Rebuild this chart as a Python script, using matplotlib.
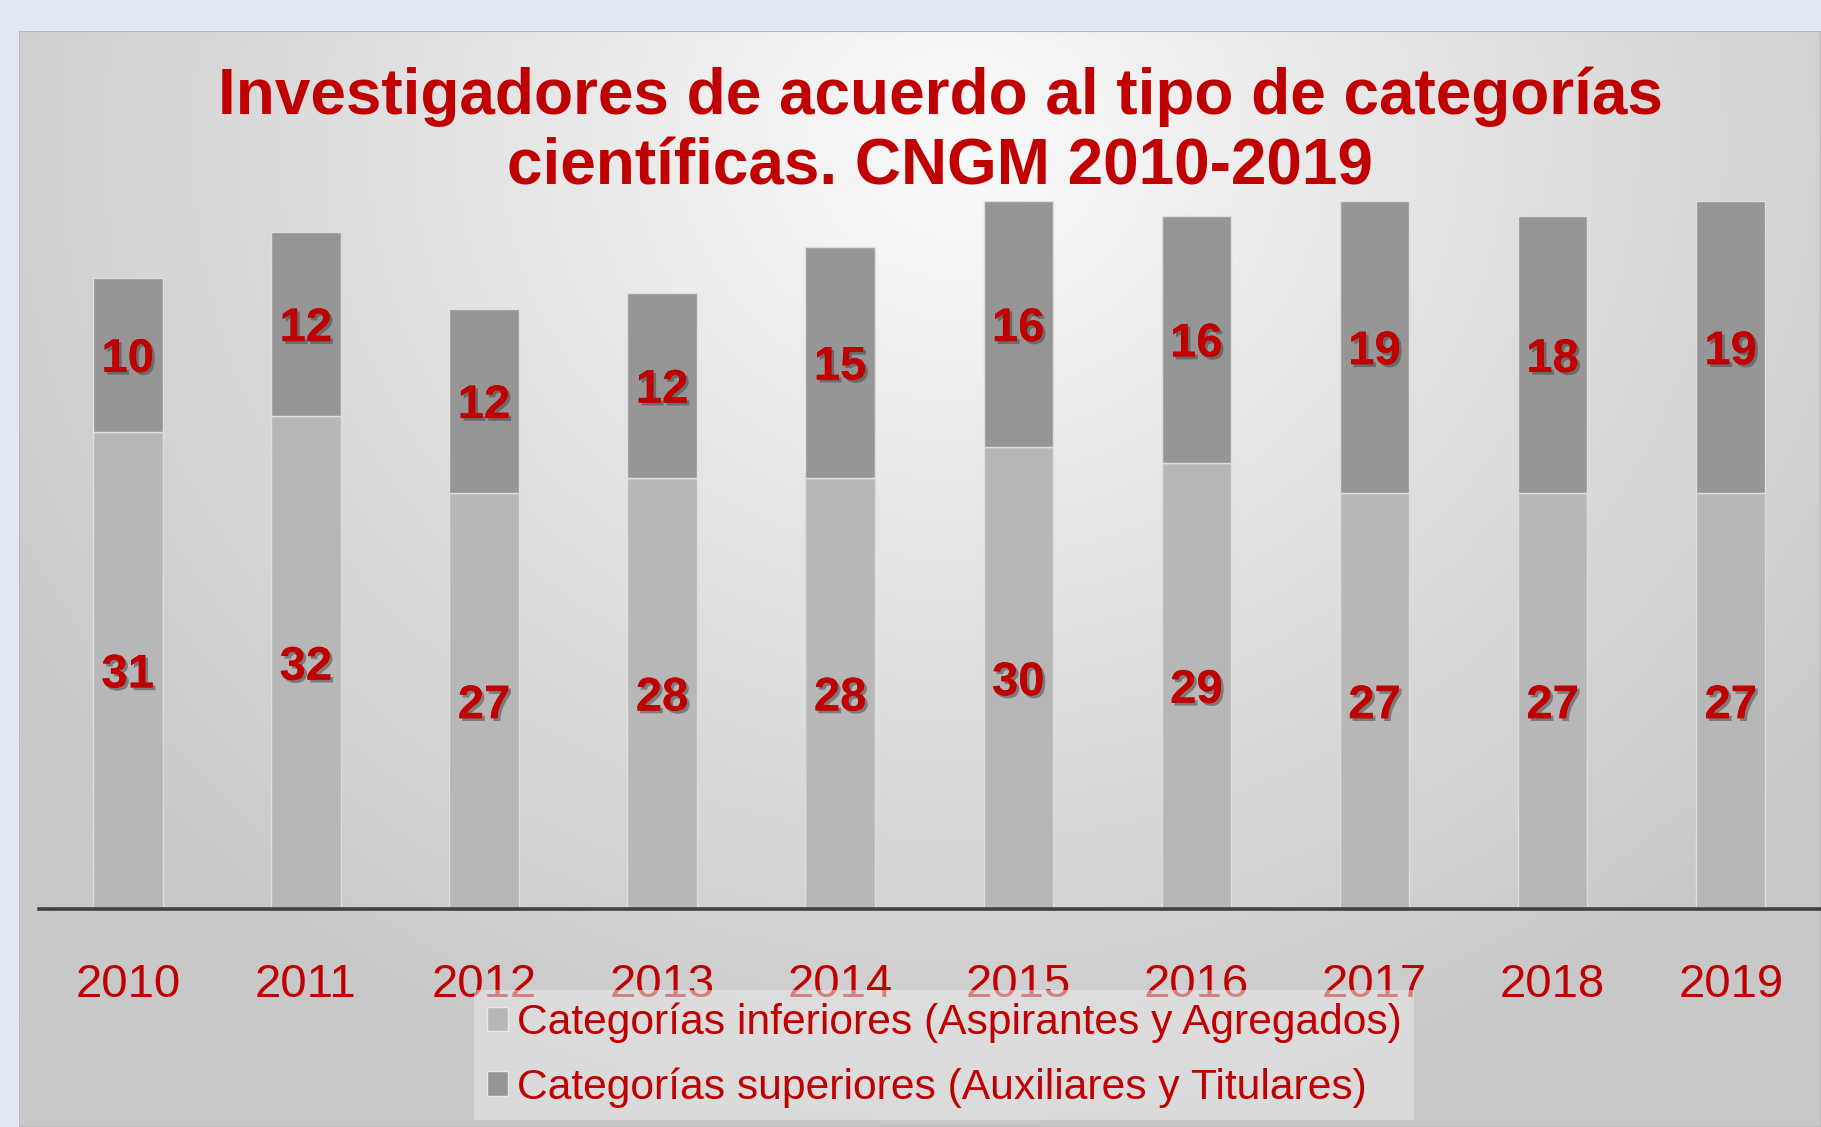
import numpy as np
import matplotlib.pyplot as plt
import matplotlib.patheffects as pe
from matplotlib.patches import Patch, Rectangle

# datos
anios = ['2010', '2011', '2012', '2013', '2014', '2015', '2016', '2017', '2018', '2019']
inferiores = [31, 32, 27, 28, 28, 30, 29, 27, 27, 27]
superiores = [10, 12, 12, 12, 15, 16, 16, 19, 18, 19]

titulo = 'Investigadores de acuerdo al tipo de categorías\ncientíficas. CNGM 2010-2019'
etiqueta_inf = 'Categorías inferiores (Aspirantes y Agregados)'
etiqueta_sup = 'Categorías superiores (Auxiliares y Titulares)'

rojo = '#c00000'
gris_inf = '#b7b7b7'
gris_sup = '#969696'

plt.rcParams['font.family'] = ['Liberation Sans', 'DejaVu Sans']

W, H = 1821, 1127
fig = plt.figure(figsize=(W/100, H/100), dpi=100, facecolor='#e1e8f4')

# panel con degradado
px0, py0 = 19, 31
bg = fig.add_axes([px0/W, 0, 1 - px0/W, 1 - py0/H])
ny, nx = 220, 360
yy, xx = np.mgrid[0:ny, 0:nx]
xx = xx / nx * (W - px0)
yy = yy / ny * (H - py0)
d = np.sqrt(((xx - 0.52*(W - px0))/1100)**2 + ((yy - 0.10*(H - py0))/1000)**2)
v = (250 - 50*np.clip(d, 0, 1)) / 255.
bg.imshow(np.dstack([v, v, v]), aspect='auto', extent=[0, 1, 0, 1], origin='upper', interpolation='bilinear')
bg.add_patch(Rectangle((0, 0), 1, 1, transform=bg.transAxes, fill=False, edgecolor='#b8b8b8', lw=1.5))
bg.set_axis_off()

# grafico de barras
y_eje, y_top = 909, 201
ax = fig.add_axes([38.75/W, (H - y_eje)/H, 1781/W, (y_eje - y_top)/H])
ax.patch.set_alpha(0)
x = np.arange(len(anios))
ancho = 0.39
b1 = ax.bar(x, inferiores, ancho, color=gris_inf, edgecolor='#dedede', lw=1, label=etiqueta_inf)
b2 = ax.bar(x, superiores, ancho, bottom=inferiores, color=gris_sup, edgecolor='#dedede', lw=1, label=etiqueta_sup)

sombra = [pe.withSimplePatchShadow(offset=(2, -2), shadow_rgbFace='#404040', alpha=0.5), pe.Normal()]
for barras in (b1, b2):
    etiquetas = ax.bar_label(barras, label_type='center', color=rojo, fontsize=34, fontweight='bold',
                             path_effects=sombra)
    for t in etiquetas:
        t.set_verticalalignment('center_baseline')

ax.set_xlim(-0.5, len(anios) - 0.5)
ax.set_ylim(0, 46)
ax.set_yticks([])
ax.set_xticks(x)
ax.set_xticklabels(anios, color=rojo, fontsize=34)
ax.tick_params(axis='x', length=0, pad=39)
for s in ['top', 'right', 'left']:
    ax.spines[s].set_visible(False)
ax.spines['bottom'].set_color('#404040')
ax.spines['bottom'].set_linewidth(2.6)

fig.text(940/W, 1 - 132/H, titulo, ha='center', va='center', color=rojo, fontsize=46,
         fontweight='bold', linespacing=1.22)

leyenda = fig.legend(handles=[Patch(facecolor=gris_inf, edgecolor='#e8e8e8'),
                              Patch(facecolor=gris_sup, edgecolor='#e8e8e8')],
                     labels=[etiqueta_inf, etiqueta_sup],
                     loc='upper left', bbox_to_anchor=(474/W, 1 - 990/H), borderaxespad=0,
                     fontsize=30.7, handlelength=0.5, handleheight=0.5, handletextpad=0.2,
                     borderpad=0.3, labelspacing=0.56, frameon=True, fancybox=False)
for t in leyenda.get_texts():
    t.set_color(rojo)
leyenda.get_frame().set_facecolor('#eaeaea')
leyenda.get_frame().set_alpha(0.55)
leyenda.get_frame().set_edgecolor('none')

fig.savefig('out.png', dpi=100, facecolor=fig.get_facecolor())
